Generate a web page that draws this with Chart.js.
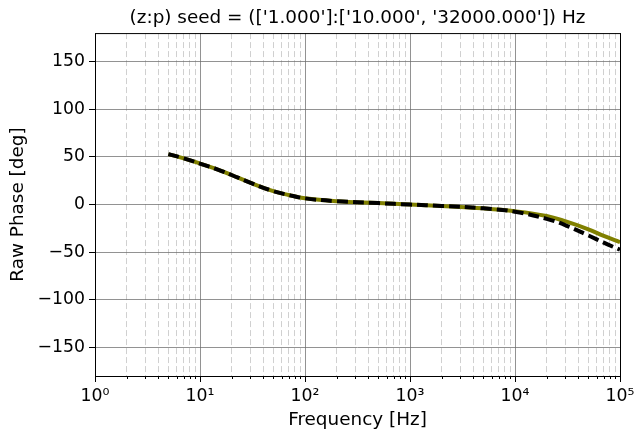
<!DOCTYPE html>
<html>
<head>
<meta charset="utf-8">
<script src="https://cdn.jsdelivr.net/npm/chart.js@4/dist/chart.umd.min.js"></script>
<style>
  html, body { margin: 0; padding: 0; background: #fff; }
  #wrap { width: 634px; height: 431px; }
</style>
</head>
<body>
<div id="wrap"><canvas id="phaseChart"></canvas></div>
<script>
// frequency points [Hz] and phase of the fitted / seed response [deg]
const freqs = [5, 7, 10, 15, 20, 30, 50, 70, 100, 200, 500, 1000, 2000, 5000, 10000, 20000, 30000, 50000, 70000, 100000];
const phaseFit = [53, 48.5, 43, 36.5, 31, 23, 14, 10, 6.5, 3.5, 1.5, 0, -1.5, -4, -7, -12, -17.5, -26, -33, -39.5];
const phaseSeed = [53, 48.5, 43, 36.5, 31, 23, 14, 10, 6.5, 3.5, 1.5, 0, -1.5, -4, -7.5, -15, -21.5, -32.5, -40, -47.5];
const yTicks = [-150, -100, -50, 0, 50, 100, 150];
const decades = [0, 1, 2, 3, 4, 5];

const supers = ['⁰', '¹', '²', '³', '⁴', '⁵'];
const FONT = 'DejaVu Sans';

const toPoints = ys => freqs.map((f, i) => ({ x: f, y: ys[i] }));

// every 1..9 x 10^k tick; powers of ten are the major ones
const xTickValues = [];
decades.forEach(d => {
    for (let m = 1; m <= 9; m++) {
        const v = m * Math.pow(10, d);
        if (v <= 1e5) xTickValues.push({ value: v, major: m === 1 });
    }
});

// box around the axes plus the short minor ticks under the x axis
const frame = {
    id: 'frame',
    afterDraw(chart) {
        const { ctx, chartArea: a } = chart;
        const xs = chart.scales.x;
        ctx.save();
        ctx.strokeStyle = '#000';
        ctx.lineWidth = 1;
        ctx.beginPath();
        xTickValues.filter(t => !t.major).forEach(t => {
            const px = Math.round(xs.getPixelForValue(t.value)) + 0.5;
            ctx.moveTo(px, a.bottom);
            ctx.lineTo(px, a.bottom + 3);
        });
        ctx.stroke();
        ctx.strokeRect(a.left + 0.5, a.top + 0.5, a.right - a.left, a.bottom - a.top);
        ctx.restore();
    }
};

new Chart(document.getElementById('phaseChart'), {
    type: 'line',
    data: {
        datasets: [{
            label: 'fit',
            data: toPoints(phaseFit),
            borderColor: '#808000',
            borderWidth: 4,
            pointRadius: 0,
            tension: 0.4,
            order: 2
        }, {
            label: 'seed',
            data: toPoints(phaseSeed),
            borderColor: '#000000',
            borderWidth: 4,
            borderDash: [11, 5],
            pointRadius: 0,
            tension: 0.4,
            order: 1
        }]
    },
    options: {
        responsive: true,
        maintainAspectRatio: false,
        animation: false,
        layout: { padding: { left: 0, right: 14, top: 0, bottom: 0 } },
        plugins: {
            legend: { display: false },
            tooltip: { enabled: false },
            title: {
                display: true,
                fullSize: false,
                text: "(z:p) seed = (['1.000']:['10.000', '32000.000']) Hz",
                color: '#000',
                font: { family: FONT, size: 18.4, weight: 'normal' },
                padding: { top: 7, bottom: 4 }
            }
        },
        scales: {
            x: {
                type: 'logarithmic',
                min: 1,
                max: 1e5,
                afterBuildTicks: s => { s.ticks = xTickValues.map(t => ({ ...t })); },
                afterFit: s => { s.height = 55; s.paddingLeft = 0; s.paddingRight = 0; },
                ticks: {
                    autoSkip: false,
                    maxRotation: 0,
                    color: '#000',
                    font: { family: FONT, size: 17.3 },
                    padding: 4,
                    callback: (v) => {
                        const d = Math.round(Math.log10(v));
                        return Math.abs(v - Math.pow(10, d)) < 1e-6 * v ? '10' + supers[d] : '';
                    }
                },
                grid: {
                    color: c => c.tick && c.tick.major ? 'rgba(110,110,110,0.75)' : 'rgba(200,200,200,0.85)',
                    lineWidth: 1,
                    tickLength: 6,
                    tickColor: c => c.tick && c.tick.major ? '#000' : 'rgba(0,0,0,0)'
                },
                border: {
                    display: false,
                    dash: c => c.tick && c.tick.major ? [] : [6, 3]
                },
                title: {
                    display: true,
                    text: 'Frequency [Hz]',
                    color: '#000',
                    font: { family: FONT, size: 18.4 },
                    padding: { top: 0, bottom: 0 }
                }
            },
            y: {
                min: -180,
                max: 180,
                afterBuildTicks: s => { s.ticks = yTicks.map(v => ({ value: v })); },
                afterFit: s => { s.width = 95; },
                ticks: {
                    color: '#000',
                    font: { family: FONT, size: 17.3 },
                    padding: 4,
                    callback: v => String(v).replace('-', '\u2212')
                },
                grid: {
                    color: 'rgba(110,110,110,0.75)',
                    lineWidth: 1,
                    tickLength: 6,
                    tickColor: '#000'
                },
                border: { display: false },
                title: {
                    display: true,
                    text: 'Raw Phase [deg]',
                    color: '#000',
                    font: { family: FONT, size: 18.4 },
                    padding: { top: 7, bottom: 0 }
                }
            }
        }
    },
    plugins: [frame]
});
</script>
</body>
</html>
